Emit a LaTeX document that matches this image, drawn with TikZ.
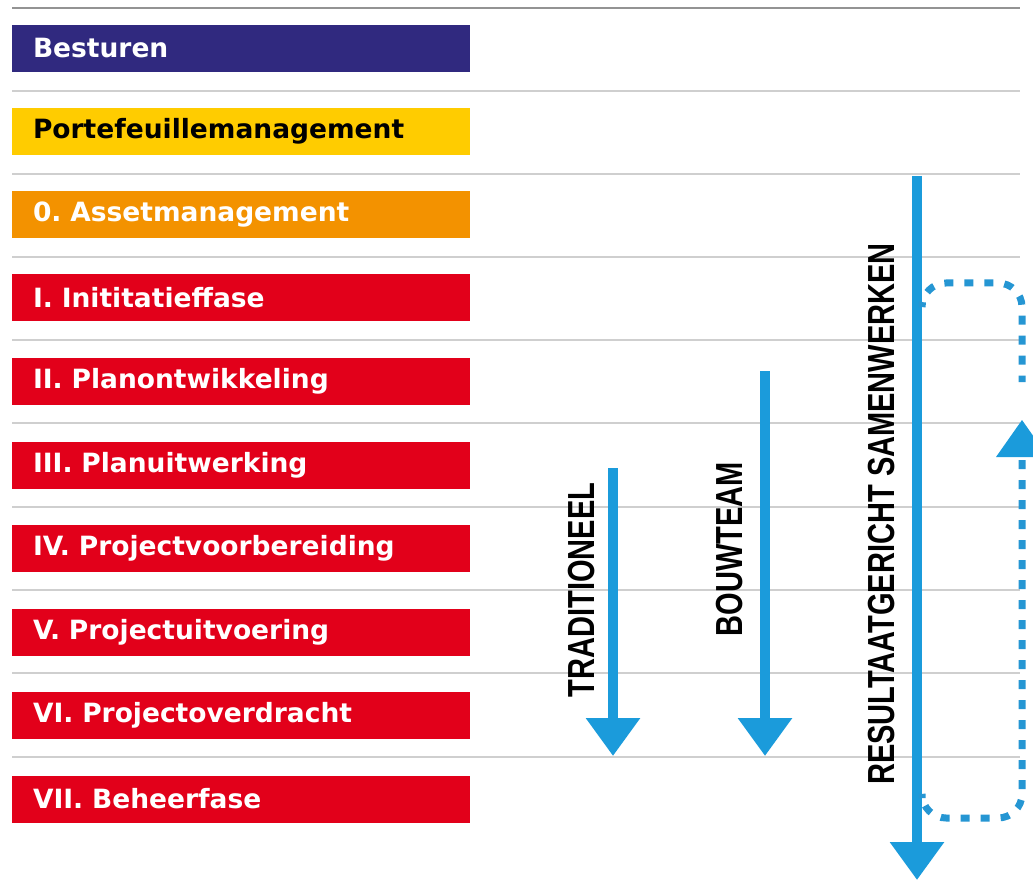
\documentclass[tikz,border=0pt]{standalone}
\usepackage{fontspec}
\usetikzlibrary{arrows.meta}
\newfontfamily\barfont{DejaVu Sans}
\newfontfamily\labfont{Liberation Sans}
\definecolor{cblue}{HTML}{30297F}
\definecolor{cyellow}{HTML}{FFCC00}
\definecolor{corange}{HTML}{F39200}
\definecolor{cred}{HTML}{E2001A}
\definecolor{carrow}{HTML}{1B9BDB}
\definecolor{cdash}{HTML}{2596D3}
\definecolor{cline}{HTML}{CFCFCF}
\frenchspacing
\tikzset{
  bar/.style={minimum width=458pt, minimum height=47pt, text width=416pt, inner xsep=21pt, inner ysep=0pt, align=left, font=\barfont\bfseries\fontsize{26.5}{30}\selectfont, text=white},
  sep/.style={draw=cline, line width=2pt},
  lab/.style={rotate=90, inner sep=0pt, font=\labfont\bfseries\fontsize{37.7}{40}\selectfont, text=black},
  bigarrow/.style={draw=carrow, line width=10.5pt, -{Triangle[width=52pt,length=38pt]}},
  dots/.style={draw=cdash, line width=7pt, dash pattern=on 9pt off 11pt, rounded corners=24pt},
}
\begin{document}
\begin{tikzpicture}[x=1pt,y=-1pt]
\useasboundingbox (0,0) rectangle (1033,890);
\clip (0,0) rectangle (1033,890);
\fill[white] (0,0) rectangle (1033,890);
% separator lines
\draw[draw=gray!85, line width=1.5pt] (12,8) -- (1020,8);
\foreach \y in {91,174,257,340,423,507,590,673,757}{
  \draw[sep] (12,\y) -- (1020,\y);
}
% phase bars
\node[bar, fill=cblue] (besturen) at (241,48.5) {Besturen};
\node[bar, fill=cyellow, text=black] (portefeuille) at (241,131.5) {Portefeuillemanagement};
\node[bar, fill=corange] (asset) at (241,214.5) {0. Assetmanagement};
\node[bar, fill=cred] (initiatie) at (241,298) {I. Inititatieffase};
\node[bar, fill=cred] (planontw) at (241,381.5) {II. Planontwikkeling};
\node[bar, fill=cred] (planuitw) at (241,465) {III. Planuitwerking};
\node[bar, fill=cred] (projvoorb) at (241,548.5) {IV. Projectvoorbereiding};
\node[bar, fill=cred] (projuitv) at (241,632) {V. Projectuitvoering};
\node[bar, fill=cred] (projoverd) at (241,715.5) {VI. Projectoverdracht};
\node[bar, fill=cred] (beheer) at (241,799) {VII. Beheerfase};
% arrows
\coordinate (tradA) at (613,468);
\coordinate (tradB) at (613,756);
\coordinate (bouwA) at (765,371);
\coordinate (bouwB) at (765,756);
\coordinate (resA) at (917,176);
\coordinate (resB) at (917,880);
\draw[bigarrow] (tradA) -- (tradB);
\draw[bigarrow] (bouwA) -- (bouwB);
\draw[bigarrow] (resA) -- (resB);
% labels
\node[lab] (trad) at (582,590) {\scalebox{0.77}[1]{TRADITIONEEL}};
\node[lab] (bouw) at (730,549) {\scalebox{0.77}[1]{BOUWTEAM}};
\node[lab] (res) at (882,514) {\scalebox{0.77}[1]{RESULTAATGERICHT SAMENWERKEN}};
% dotted feedback loop
\coordinate (loopA) at (922,303);
\coordinate (loopB) at (1022,382);
\coordinate (loopC) at (1022,460);
\coordinate (loopD) at (922,798);
\coordinate (tipUp) at (1022,420);
\draw[dots] (loopA) -- (922,283) -- (1022,283) -- (loopB);
\draw[dots] (loopC) -- (1022,818) -- (922,818) -- (loopD);
\fill[carrow] (tipUp) -- ++(-26,37) -- ++(52,0) -- cycle;
\end{tikzpicture}
\end{document}
